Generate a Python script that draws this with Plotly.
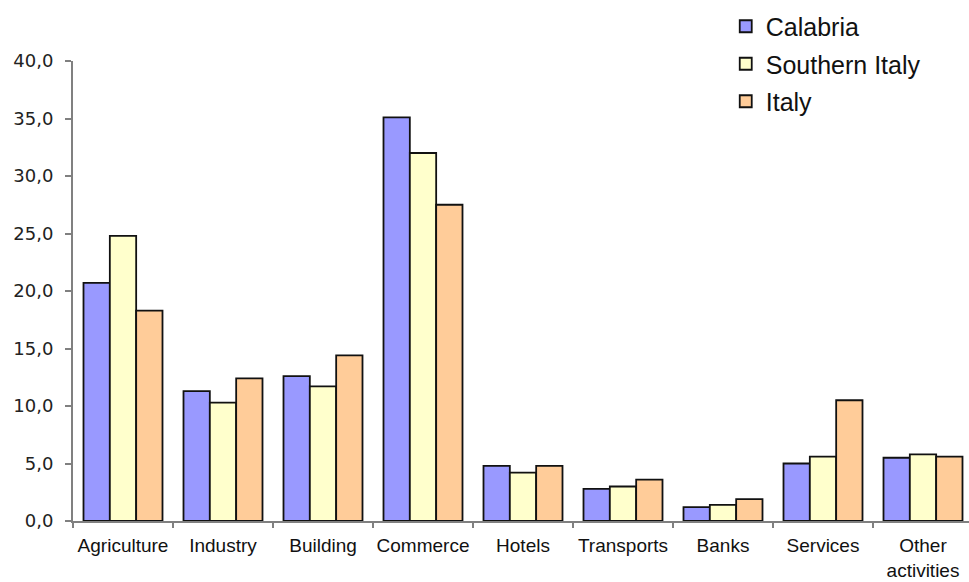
import plotly.graph_objects as go

categories = ["Agriculture", "Industry", "Building", "Commerce", "Hotels",
              "Transports", "Banks", "Services", "Other<br>activities"]
calabria = [20.7, 11.3, 12.6, 35.1, 4.8, 2.8, 1.2, 5.0, 5.5]
southern_italy = [24.8, 10.3, 11.7, 32.0, 4.2, 3.0, 1.4, 5.6, 5.8]
italy = [18.3, 12.4, 14.4, 27.5, 4.8, 3.6, 1.9, 10.5, 5.6]
y_ticks = [0, 5, 10, 15, 20, 25, 30, 35, 40]

series = [("Calabria", calabria, "#9999FF"),
          ("Southern Italy", southern_italy, "#FFFFCC"),
          ("Italy", italy, "#FFCC99")]

fig = go.Figure()
for i, (name, vals, col) in enumerate(series):
    fig.add_trace(go.Bar(
        x=categories, y=vals, name=name, legendgroup=str(i),
        marker=dict(color=col, line=dict(color="#111111", width=1.8)),
    ))

fig.update_layout(
    width=969, height=582,
    margin=dict(l=73, r=0, t=61, b=61, autoexpand=False),
    paper_bgcolor="white", plot_bgcolor="white",
    barmode="group", bargap=0.21, bargroupgap=0,
    font=dict(family="Liberation Sans, Arial, sans-serif", color="#111111"),
    legend=dict(x=0.7285, y=1.125, xanchor="left", yanchor="top",
                font=dict(size=25, family="Liberation Sans, Arial, sans-serif"),
                traceorder="grouped", tracegroupgap=2, bgcolor="rgba(0,0,0,0)"),
    showlegend=True,
)
fig.update_xaxes(
    range=[-0.5, 8.46], showline=True, linecolor="#808080", linewidth=2,
    ticks="outside", tickson="boundaries", ticklen=5, tickwidth=2, tickcolor="#808080",
    tickangle=0, automargin=False, ticklabelstandoff=6,
    tickfont=dict(size=19, family="Liberation Sans, Arial, sans-serif", color="#111111"),
    showgrid=False, zeroline=False,
)
fig.update_yaxes(
    range=[0, 40], tickvals=y_ticks, tickformat=".1f", automargin=False,
    showline=True, linecolor="#808080", linewidth=2,
    ticks="outside", ticklen=6, tickwidth=2, tickcolor="#808080",
    tickfont=dict(size=18, family="DejaVu Sans, Verdana, sans-serif", color="#222222"),
    ticklabelstandoff=8,
    showgrid=False, zeroline=False,
)
fig.update_layout(separators=",.")
fig.write_html("out.html")
